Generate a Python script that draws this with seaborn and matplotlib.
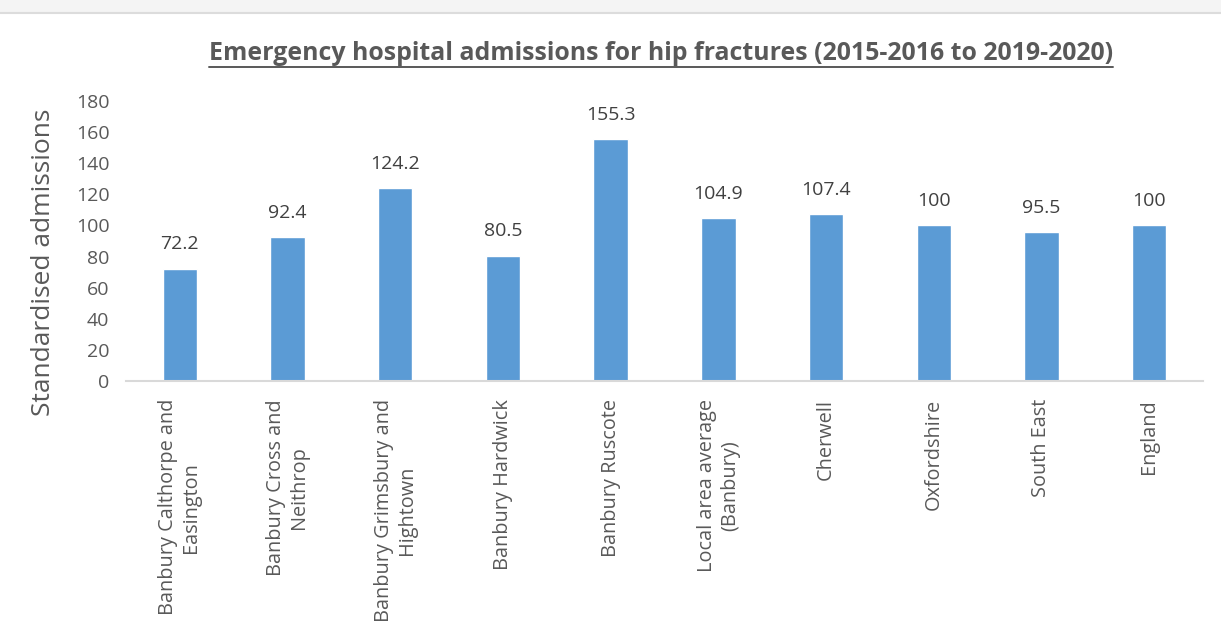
import matplotlib
matplotlib.use("Agg")
import matplotlib.pyplot as plt
from matplotlib.lines import Line2D
import seaborn as sns
import pandas as pd

areas = [
    "Banbury Calthorpe and\nEasington",
    "Banbury Cross and\nNeithrop",
    "Banbury Grimsbury and\nHightown",
    "Banbury Hardwick",
    "Banbury Ruscote",
    "Local area average\n(Banbury)",
    "Cherwell",
    "Oxfordshire",
    "South East",
    "England",
]
admissions = [72.2, 92.4, 124.2, 80.5, 155.3, 104.9, 107.4, 100, 95.5, 100]
value_labels = ["72.2", "92.4", "124.2", "80.5", "155.3", "104.9", "107.4", "100", "95.5", "100"]
y_ticks = [0, 20, 40, 60, 80, 100, 120, 140, 160, 180]

title = "Emergency hospital admissions for hip fractures (2015-2016 to 2019-2020)"
y_label = "Standardised admissions"

sns.set_theme(style="white")
plt.rcParams["font.family"] = ["Open Sans", "DejaVu Sans"]

text_color = "#595959"
value_color = "#404040"
bar_color = "#5b9bd5"
axis_color = "#d9d9d9"

df = pd.DataFrame({"area": areas, "value": admissions})

W, H = 1221, 630
fig = plt.figure(figsize=(W / 100, H / 100), dpi=100)
fig.patch.set_facecolor("white")

# light header band with a thin rule beneath it
fig.patches.append(plt.Rectangle((0, 1 - 12 / H), 1, 12 / H, transform=fig.transFigure,
                                 facecolor="#f4f4f4", edgecolor="none", zorder=0))
fig.lines.append(Line2D([0, 1], [1 - 13 / H, 1 - 13 / H], transform=fig.transFigure,
                        color="#dcdcdc", linewidth=1.5))

ax = fig.add_axes([126 / W, 1 - 381 / H, (1203 - 126) / W, (381 - 101) / H])
sns.barplot(data=df, x="area", y="value", color=bar_color, width=0.32,
            saturation=1, ax=ax, zorder=2)

ax.set_ylim(0, 180)
ax.set_xlim(-0.5, len(areas) - 0.5)
ax.set_yticks(y_ticks)
ax.set_yticklabels([str(t) for t in y_ticks], fontsize=14, color=text_color)
ax.set_xticks(range(len(areas)))
ax.set_xticklabels(areas, rotation=90, fontsize=14.3, color=text_color,
                   va="top", ha="center", multialignment="center")
ax.tick_params(axis="both", length=0)
ax.tick_params(axis="x", pad=13)
ax.tick_params(axis="y", pad=12)

for side in ["top", "right", "left"]:
    ax.spines[side].set_visible(False)
ax.spines["bottom"].set_color(axis_color)
ax.spines["bottom"].set_linewidth(1.5)

ax.set_xlabel("")
ax.set_ylabel(y_label, fontsize=19, color=text_color)
ax.yaxis.set_label_coords(-(126 - 56) / (1203 - 126), (381 - 262) / (381 - 101))

for i, (v, lab) in enumerate(zip(admissions, value_labels)):
    ax.annotate(lab, (i, v), xytext=(0, 11), textcoords="offset points",
                ha="center", va="bottom", fontsize=14, color=value_color)

t = fig.text(661 / W, 1 - 53 / H, title, ha="center", va="center",
             fontsize=17.9, fontweight="bold", color=text_color)

# underline the title
fig.canvas.draw()
bb = t.get_window_extent(renderer=fig.canvas.get_renderer())
uy = (bb.y0 - 1) / H
fig.lines.append(Line2D([bb.x0 / W, bb.x1 / W], [uy, uy], transform=fig.transFigure,
                        color=text_color, linewidth=1.4))

fig.savefig("out.png", dpi=100)
